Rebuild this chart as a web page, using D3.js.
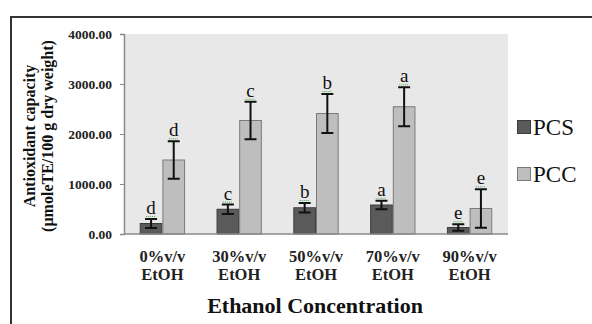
<!DOCTYPE html>
<html>
<head>
<meta charset="utf-8">
<script src="https://cdn.jsdelivr.net/npm/d3@7"></script>
<style>
  body { margin: 0; background: #fff; }
  svg text { font-family: "Liberation Serif", "Times New Roman", Times, serif !important; }
</style>
</head>
<body>
<div id="chartContainer"></div>
<script>
// data
var categories = ["0%v/v|EtOH", "30%v/v|EtOH", "50%v/v|EtOH", "70%v/v|EtOH", "90%v/v|EtOH"];
var seriesNames = ["PCS", "PCC"];
var pcsValues = [210, 495, 525, 580, 130];
var pcsErrors = [90, 95, 95, 85, 65];
var pcsLetters = ["d", "c", "b", "a", "e"];
var pccValues = [1480, 2270, 2410, 2545, 510];
var pccErrors = [375, 375, 390, 390, 385];
var pccLetters = ["d", "c", "b", "a", "e"];
var yTicks = [0, 1000, 2000, 3000, 4000];

var width = 592, height = 324;
var margin = { top: 34, right: 84, bottom: 90, left: 124 };
var plotW = width - margin.left - margin.right;   // 384
var plotH = height - margin.top - margin.bottom;  // 200

var serif = "'Liberation Serif', 'Times New Roman', serif";
var colors = { PCS: "#5a5a5a", PCC: "#bebebe" };
var strokes = { PCS: "#3c3c3c", PCC: "#7a7a7a" };

var svg = d3.select("#chartContainer")
    .append("svg")
    .attr("width", width)
    .attr("height", height)
    .style("font-family", serif);

// outer frame (only top and left edges show)
svg.append("path")
    .attr("d", "M11,324 V17 H592")
    .attr("fill", "none")
    .attr("stroke", "#333")
    .attr("stroke-width", 2);

var g = svg.append("g")
    .attr("transform", `translate(${margin.left}, ${margin.top})`);

g.append("rect")
    .attr("width", plotW)
    .attr("height", plotH)
    .attr("fill", "#e8e8e8");

var x0 = d3.scaleBand()
    .domain(categories)
    .range([0, plotW])
    .paddingInner(0.41)
    .paddingOuter(0.205);

var x1 = d3.scaleBand()
    .domain(seriesNames)
    .range([0, x0.bandwidth()]);

var y = d3.scaleLinear()
    .domain([0, 4000])
    .range([plotH, 0]);

var rows = [];
for (var i = 0; i < categories.length; i++) {
    rows.push({ cat: categories[i], key: "PCS", v: pcsValues[i], e: pcsErrors[i], l: pcsLetters[i] });
    rows.push({ cat: categories[i], key: "PCC", v: pccValues[i], e: pccErrors[i], l: pccLetters[i] });
}

// bars
g.selectAll(".bar")
    .data(rows)
    .enter().append("rect")
    .attr("x", function (d) { return x0(d.cat) + x1(d.key) + 0.5; })
    .attr("y", function (d) { return y(d.v); })
    .attr("width", x1.bandwidth() - 1)
    .attr("height", function (d) { return plotH - y(d.v); })
    .attr("fill", function (d) { return colors[d.key]; })
    .attr("stroke", function (d) { return strokes[d.key]; })
    .attr("stroke-width", 1);

// error bars
var cap = 6;
var eb = g.selectAll(".err")
    .data(rows)
    .enter().append("g")
    .attr("transform", function (d) { return `translate(${x0(d.cat) + x1(d.key) + x1.bandwidth() / 2},0)`; });

eb.append("line")
    .attr("y1", function (d) { return y(d.v + d.e); })
    .attr("y2", function (d) { return y(Math.max(0, d.v - d.e)); })
    .attr("stroke", "#111").attr("stroke-width", 2);
eb.append("line")
    .attr("x1", -cap).attr("x2", cap)
    .attr("y1", function (d) { return y(d.v + d.e); })
    .attr("y2", function (d) { return y(d.v + d.e); })
    .attr("stroke", "#111").attr("stroke-width", 2);
eb.append("line")
    .attr("x1", -cap).attr("x2", cap)
    .attr("y1", function (d) { return y(Math.max(0, d.v - d.e)); })
    .attr("y2", function (d) { return y(Math.max(0, d.v - d.e)); })
    .attr("stroke", "#111").attr("stroke-width", 2);

// significance letters with the little green underline
eb.append("line")
    .attr("x1", -5).attr("x2", 5)
    .attr("y1", function (d) { return y(d.v + d.e) - 2.5; })
    .attr("y2", function (d) { return y(d.v + d.e) - 2.5; })
    .attr("stroke", "#4caf50").attr("stroke-width", 1)
    .attr("stroke-dasharray", "1,1");
eb.append("text")
    .attr("y", function (d) { return y(d.v + d.e) - 5; })
    .attr("text-anchor", "middle")
    .attr("font-size", 19)
    .attr("fill", "#111")
    .text(function (d) { return d.l; });

// x axis baseline
g.append("line")
    .attr("x1", 0).attr("x2", plotW)
    .attr("y1", plotH).attr("y2", plotH)
    .attr("stroke", "#8a8a8a").attr("stroke-width", 1.5);

// y axis
var yAxis = g.append("g")
    .call(d3.axisLeft(y).tickValues(yTicks).tickSize(4)
        .tickFormat(function (d) { return d3.format(".2f")(d); }));
yAxis.attr("font-family", serif);
yAxis.select(".domain").attr("stroke", "#8a8a8a").attr("stroke-width", 1.5);
yAxis.selectAll(".tick line").attr("stroke", "#8a8a8a");
yAxis.selectAll(".tick text")
    .attr("font-weight", "bold")
    .attr("font-size", 13.5)
    .attr("fill", "#222")
    .attr("x", -12);

// category labels
var xl = g.selectAll(".xlab")
    .data(categories)
    .enter().append("text")
    .attr("text-anchor", "middle")
    .attr("font-weight", "bold")
    .attr("font-size", 16.5)
    .attr("fill", "#222")
    .attr("transform", function (d) { return `translate(${x0(d) + x0.bandwidth() / 2}, ${plotH + 28})`; });
xl.append("tspan").attr("x", 0).attr("y", 0).text(function (d) { return d.split("|")[0]; });
xl.append("tspan").attr("x", 0).attr("y", 18).text(function (d) { return d.split("|")[1]; });

// axis titles
svg.append("text")
    .attr("x", 315)
    .attr("y", 313)
    .attr("text-anchor", "middle")
    .attr("font-weight", "bold")
    .attr("font-size", 22)
    .attr("fill", "#111")
    .text("Ethanol Concentration");

var yt = svg.append("text")
    .attr("transform", "translate(35, 136) rotate(-90)")
    .attr("text-anchor", "middle")
    .attr("font-weight", "bold")
    .attr("font-size", 16)
    .attr("fill", "#111");
yt.append("tspan").attr("x", 0).attr("y", 0).text("Antioxidant capacity");
yt.append("tspan").attr("x", 0).attr("y", 18).text("(µmoleTE/100 g dry weight)");

// legend
var legend = svg.selectAll(".legend")
    .data(seriesNames)
    .enter().append("g")
    .attr("transform", function (d, i) { return `translate(517, ${120 + i * 47})`; });
legend.append("rect")
    .attr("x", 0.5).attr("y", 0.5)
    .attr("width", 13).attr("height", 13)
    .attr("fill", function (d) { return colors[d]; })
    .attr("stroke", function (d) { return strokes[d]; });
legend.append("text")
    .attr("x", 16)
    .attr("y", 15)
    .attr("font-size", 23)
    .attr("fill", "#111")
    .text(function (d) { return d; });
</script>
</body>
</html>
